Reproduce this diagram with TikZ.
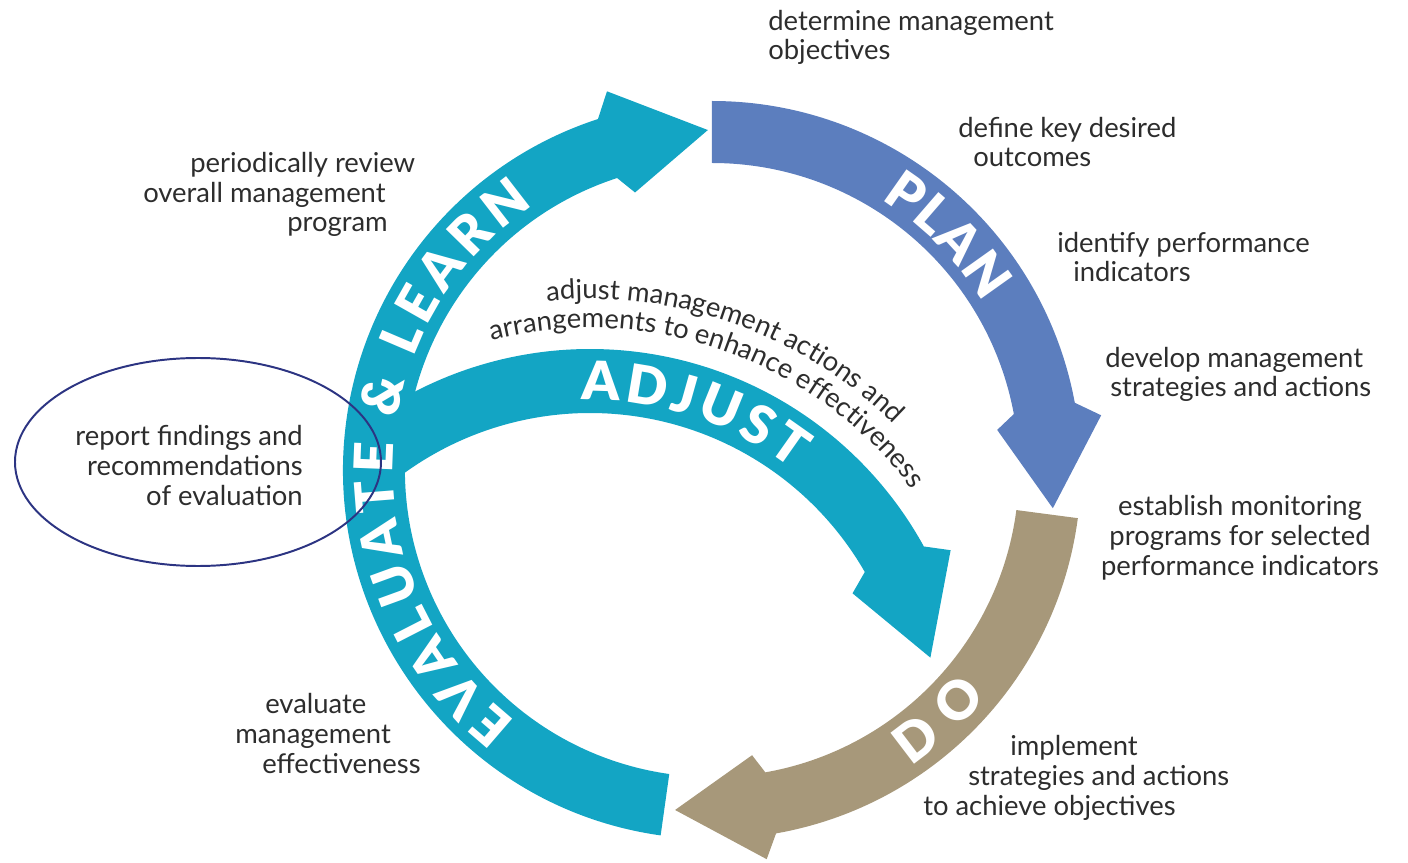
\documentclass[tikz,border=0pt]{standalone}
\usepackage{fontspec}
\setmainfont{Lato}
\newfontfamily\ringface{Lato Black}
\usetikzlibrary{decorations.text}
\definecolor{learnteal}{RGB}{19,165,196}
\definecolor{planblue}{RGB}{92,126,190}
\definecolor{dotan}{RGB}{167,152,122}
\definecolor{labelgray}{RGB}{45,45,45}
\definecolor{ringnavy}{RGB}{44,52,130}
\newcommand{\ringout}{369}
\newcommand{\ringin}{307}
\newcommand{\barbout}{393}
\newcommand{\barbin}{288}
\newcommand{\labelfont}{\fontsize{19.5}{21}\selectfont}
\newcommand{\ringfont}{\fontsize{38}{40}\selectfont\ringface}
\newlength{\pxu}\setlength{\pxu}{0.025cm}
% colour, start angle, shaft end, barb angle, tip angle, tip radius
\newcommand{\ringarrow}[6]{%
  \fill[#1] (#2:\ringout) arc[start angle=#2, end angle=#3, radius=\ringout]
    -- (#4:\barbout) -- (#5:#6) -- (#4:\barbin) -- (#3:\ringin)
    arc[start angle=#3, end angle=#2, radius=\ringin] -- cycle;}
\tikzset{
  steplabel/.style={font=\labelfont, text=labelgray, inner sep=0pt, align=left, anchor=base west},
  ringtext/.style={decorate, decoration={text along path, text align=fit to path, text color=white, text={|\ringfont|#1}}},
  arctext/.style={decorate, decoration={text along path, text align=center, text color=labelgray, text={|\labelfont|#1}}}
}
\begin{document}
\begin{tikzpicture}[x=0.025cm, y=0.025cm]
    \useasboundingbox (-712,-392) rectangle (696,470);
    % the cycle
    \ringarrow{learnteal}{262}{108}{105.5}{90.7}{340}
    \ringarrow{planblue}{90}{10.5}{8}{-6.4}{343}
    \ringarrow{dotan}{-7.5}{-80}{-82}{-96.2}{342}
    % adjust arrow
    \begin{scope}[shift={(-122,-260)}]
        \fill[learnteal] (127:381) arc[start angle=127, end angle=28.8, radius=381]
            -- (26.5:403) -- (12:348) -- (27.5:296) -- (29.9:317)
            arc[start angle=29.9, end angle=127, radius=317] -- cycle;
        \path[ringtext={ADJUST}] (91.5:330) arc[start angle=91.5, end angle=52, radius=330];
        \path[arctext={adjust management actions and}] (96:431) arc[start angle=96, end angle=45, radius=431];
        \path[arctext={arrangements to enhance effectiveness}] (104.5:402) arc[start angle=104.5, end angle=36.5, radius=402];
    \end{scope}
    \path[ringtext={EVALUATE {\&} LEARN}] (232:319) arc[start angle=232, end angle=124, radius=319];
    \path[ringtext={PLAN}] (58:319) arc[start angle=58, end angle=31.7, radius=319];
    \path[ringtext={DO}] (-56:357) arc[start angle=-56, end angle=-39.6, radius=357];
    \draw[ringnavy, line width=1.4pt] (-514,8) ellipse[x radius=183, y radius=104];
    % step labels, placed at the baseline of their last line
    \node[steplabel] (objectives) at (56,410) {determine management\\objectives};
    \node[steplabel] (outcomes) at (246,303) {define key desired\\\hspace*{15\pxu}outcomes};
    \node[steplabel] (indicators) at (345,188) {identify performance\\\hspace*{16\pxu}indicators};
    \node[steplabel] (strategies) at (393,73) {develop management\\\hspace*{5\pxu}strategies and actions};
    \node[steplabel, align=center, anchor=base] (monitoring) at (528,-105) {establish monitoring\\programs for selected\\performance indicators};
    \node[steplabel] (implement) at (211,-345) {\hspace*{87\pxu}implement\\\hspace*{45\pxu}strategies and actions\\to achieve objectives};
    \node[steplabel] (evaluate) at (-477,-303) {\hspace*{30\pxu}evaluate\\management\\\hspace*{27\pxu}effectiveness};
    \node[steplabel, align=right, anchor=base east] (report) at (-409,-35) {report findings and\\recommendations\\of evaluation};
    \node[steplabel] (review) at (-569,238) {\hspace*{47\pxu}periodically review\\overall management\\\hspace*{144\pxu}program};
\end{tikzpicture}
\end{document}
